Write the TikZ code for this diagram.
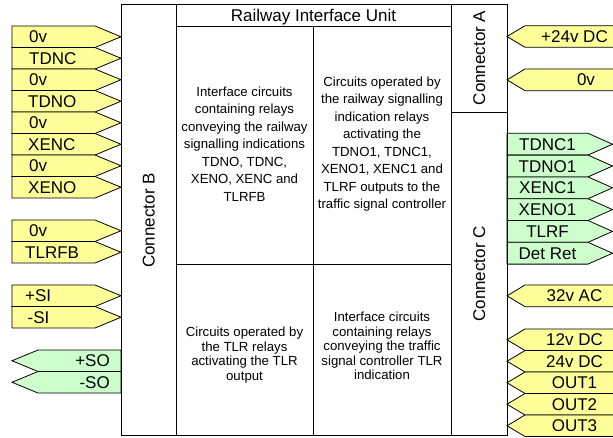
\documentclass[tikz,border=0pt]{standalone}
\usepackage{fontspec}
\setmainfont{Liberation Sans}
\definecolor{ylwfill}{HTML}{FFFF99}
\definecolor{grnfill}{HTML}{CCFFCC}
\begin{document}
\begin{tikzpicture}[x=1pt,y=-1pt,
  lbl/.style={font=\fontsize{17}{20}\selectfont, inner sep=0pt, text height=12.2pt, text depth=0pt},
  body/.style={font=\fontsize{13.2}{17.5}\selectfont, align=center, inner sep=0pt},
  bodylow/.style={font=\fontsize{13.2}{14.4}\selectfont, align=center, inner sep=0pt},
  ylw/.style={fill=ylwfill, draw=black, line width=0.8pt, line join=miter},
  grn/.style={fill=grnfill, draw=black, line width=0.8pt, line join=miter},
  frame/.style={draw=black, line width=1pt}]
\useasboundingbox (0,0) rectangle (613,437);
\clip (0,0) rectangle (613,437);
% left yellow inputs (pointing right)
\foreach \a/\b/\t/\x/\n in {26/47.5/0v/29/la,47.5/69/TDNC/29/lb,69/90.5/0v/29/lc,90.5/112/TDNO/28/ld,
  112/133.5/0v/29/le,133.5/155/XENC/28/lf,155/176.5/0v/29/lg,176.5/198/XENO/28/lh,
  220/241.5/0v/29/li,241.5/263/TLRFB/25/lj,285/306.5/+SI/25/lk,306.5/328/-SI/27.5/ll}{
  \draw[ylw] (12,\a) -- (95,\a) -- (121,{(\a+\b)/2}) -- (95,\b) -- (12,\b) -- cycle;
  \node[lbl, anchor=west] (\n) at (\x,{(\a+\b)/2}) {\t};
}
% left green outputs (pointing left)
\foreach \a/\b/\t/\n in {350/371.5/+SO/lm,371.5/393/-SO/ln}{
  \draw[grn] (12,{(\a+\b)/2}) -- (38,\a) -- (121,\a) -- (121,\b) -- (38,\b) -- cycle;
  \node[lbl, anchor=east] (\n) at (110,{(\a+\b)/2}) {\t};
}
% right yellow inputs (pointing left)
\foreach \a/\b/\t/\x/\n in {25.7/47.3/+24v DC/574.5/ra,69/90.7/0v/586/rb,285/306.7/32v AC/574.5/rc,
  329/350.5/12v DC/574.5/rd,350.5/372/24v DC/574.5/re,372/393.5/OUT1/574.5/rf,
  393.5/415/OUT2/574.5/rg,415/436.5/OUT3/574.5/rh}{
  \draw[ylw] (507,{(\a+\b)/2}) -- (525,\a) -- (630,\a) -- (630,\b) -- (525,\b) -- cycle;
  \node[lbl] (\n) at (\x,{(\a+\b)/2}) {\t};
}
% right green outputs (pointing right)
\foreach \a/\b/\t/\n in {133.3/155.1/TDNC1/ga,155.1/176.9/TDNO1/gb,176.9/198.7/XENC1/gc,
  198.7/220.5/XENO1/gd,220.5/242.3/TLRF/ge,242.3/264.1/Det Ret/gf}{
  \draw[grn] (507,\a) -- (588,\a) -- (612.5,{(\a+\b)/2}) -- (588,\b) -- (507,\b) -- cycle;
  \node[lbl] (\n) at (547.5,{(\a+\b)/2}) {\t};
}
% main frame
\draw[frame] (121,4) rectangle (507,435.5);
\draw[frame] (176,4) -- (176,435.5);
\draw[frame] (451,4) -- (451,435.5);
\draw[frame] (176,26) -- (451,26);
\draw[frame] (451,112) -- (507,112);
\draw[frame] (313,26) -- (313,435.5);
\draw[frame] (176,264) -- (451,264);
% texts
\node[lbl] (title) at (313.5,15) {Railway Interface Unit};
\node[lbl, rotate=90] (conB) at (148.5,220.5) {Connector B};
\node[lbl, rotate=90] (conA) at (479,58) {Connector A};
\node[lbl, rotate=90] (conC) at (479,274) {Connector C};
\node[body] (ul) at (244.5,144) {Interface circuits\\containing relays\\conveying the railway\\signalling indications\\TDNO, TDNC,\\XENO, XENC and\\TLRFB};
\node[body] (ur) at (382,144) {Circuits operated by\\the railway signalling\\indication relays\\activating the\\TDNO1, TDNC1,\\XENO1, XENC1 and\\TLRF outputs to the\\traffic signal controller};
\node[bodylow] (ll) at (244.5,355) {Circuits operated by\\the TLR relays\\activating the TLR\\output};
\node[bodylow] (lr) at (382,346) {Interface circuits\\containing relays\\conveying the traffic\\signal controller TLR\\indication};
\end{tikzpicture}
\end{document}
